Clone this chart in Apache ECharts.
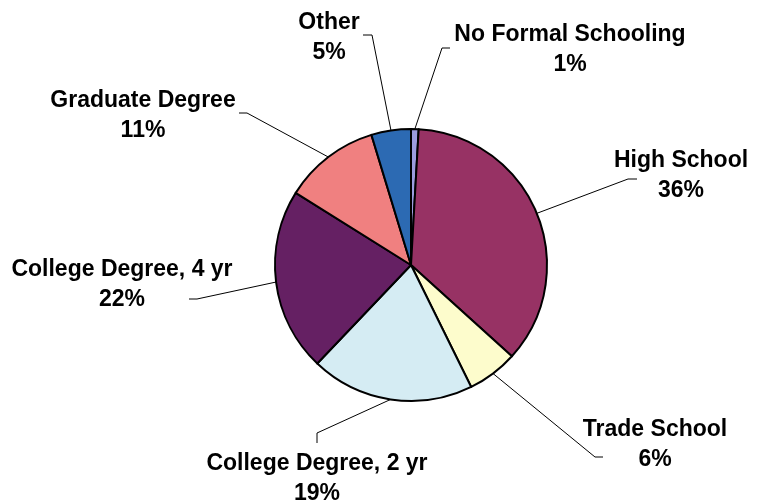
<!DOCTYPE html>
<html lang="en">
<head>
    <meta charset="UTF-8">
    <title>education-pie</title>
    <script src="https://cdn.jsdelivr.net/npm/echarts@6/dist/echarts.min.js"></script>
    <style>
        html, body { margin: 0; padding: 0; background: #fff; }
        #main { width: 765px; height: 502px; }
    </style>
</head>
<body>
<div id="main"></div>
<script>
    // 数据（按图中扇区角度估读，标签显示四舍五入的百分比）
    let categories = ['No Formal Schooling', 'High School', 'Trade School', 'College Degree, 2 yr',
        'College Degree, 4 yr', 'Graduate Degree', 'Other'];
    let values = [0.9, 35.8, 6, 19.4, 21.8, 11.4, 4.7];
    let colors = ['#9c9cde', '#973264', '#fdfccc', '#d5ecf3', '#652063', '#f08080', '#2c6ab3'];

    // 标签中心位置 + 引导线拐点（像素）
    let labelPos = [[570, 50], [681, 176], [655, 445], [317, 479], [122, 285], [143, 116], [329, 38]];
    let elbows = [
        [[442, 48], [450, 48]],
        [[628, 179], [637, 179]],
        [[595, 457], [603, 457]],
        [[317, 433], [317, 443]],
        [[197, 299], [189, 299]],
        [[247, 113], [239, 113]],
        [[372, 35], [363, 35]]
    ];

    let myChart = echarts.init(document.getElementById('main'), null, {renderer: 'canvas'});
    let option = {
        animation: false,
        series: [{
            type: 'pie',
            center: [411, 265],
            radius: 136,
            startAngle: 90,
            clockwise: true,
            data: categories.map((name, i) => ({
                name: name,
                value: values[i],
                itemStyle: {color: colors[i]}
            })),
            itemStyle: {borderColor: '#000', borderWidth: 2},
            emphasis: {disabled: true},
            label: {
                show: true,
                position: 'outside',
                formatter: p => p.name + '\n' + Math.round(p.percent) + '%',
                fontFamily: 'Liberation Sans, Arial, sans-serif',
                fontWeight: 'bold',
                fontSize: 23,
                lineHeight: 30,
                color: '#000',
                align: 'center'
            },
            labelLine: {
                show: true,
                lineStyle: {color: '#000', width: 1}
            },
            labelLayout: function (params) {
                let i = params.dataIndex;
                let start = params.labelLinePoints ? params.labelLinePoints[0] : elbows[i][0];
                return {
                    x: labelPos[i][0],
                    y: labelPos[i][1],
                    align: 'center',
                    verticalAlign: 'middle',
                    labelLinePoints: [start, elbows[i][0], elbows[i][1]]
                };
            }
        }]
    };
    myChart.setOption(option);
</script>
</body>
</html>
